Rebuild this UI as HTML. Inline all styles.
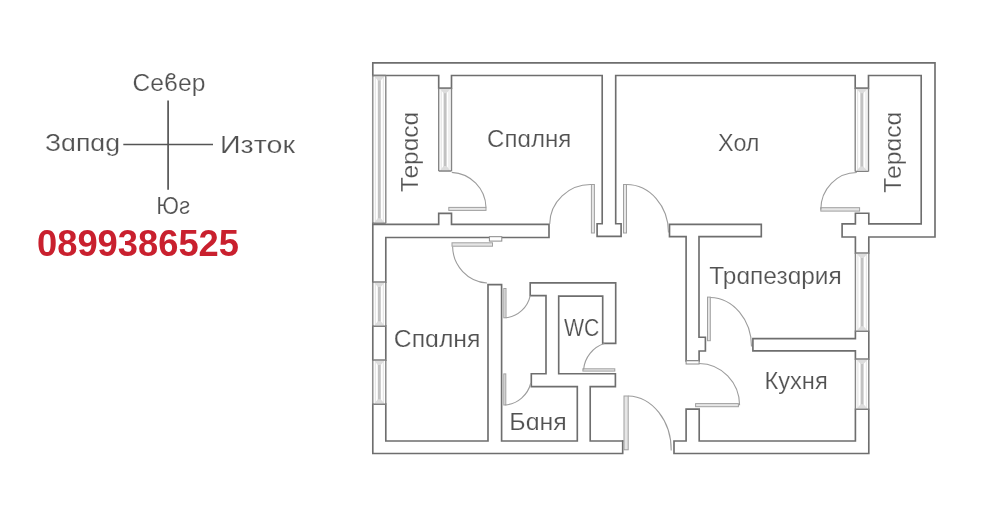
<!DOCTYPE html>
<html><head><meta charset="utf-8"><style>
html,body{margin:0;padding:0;background:#fff;}
body{width:1000px;height:505px;overflow:hidden;position:relative;}
svg{position:absolute;left:0;top:0;}
text{font-family:"Liberation Sans",sans-serif;}
svg{will-change:transform;}
</style></head><body>
<svg width="1000" height="505" viewBox="0 0 1000 505">
<rect width="1000" height="505" fill="#fff"/>
<g fill="none" stroke="#6e6e6e" stroke-width="1.65" stroke-linejoin="miter" stroke-linecap="square">
<path d="M372.8,62.8 H935 V237 H868.8 V253"/>
<path d="M372.8,62.8 V453.5 H622.7 V441"/>
<path d="M868.8,331.3 V359"/>
<path d="M868.8,409.3 V453.5 H674 V441 H686.1 V409.1 H699.2 V441 H855.4 V409.3"/>
<path d="M372.8,75.5 H438.7 V88.3 H451.5 V75.5 H602.2 V223.7 H597.1 V236.3 H621.1 V223.7 H615.7 V75.5 H855.2 V88.3 H868.5 V75.5 H921.2 V223.8 H868.8 V213.2 H855.4 V223.8 H842.1 V237 H855.4 V253"/>
<path d="M372.8,224.3 H438.7 V213.3 H451.5 V224.3 H549 V237.5 H385.8 V441 H488 V284.6 H501.6 V441 H577.3 V386.6 H531.3 V373.7 H546 V295.6 H530.2 V282.9 H615.7 V343.4 H602.7 V296.1 H558.7 V373.7 H615.4 V386.6 H590.2 V441 H622.7"/>
<path d="M669.5,224.3 H761.3 V236.6 H699.0 V337.2 H705.4 V351 H699.1 V360.8 H686.1 V236.6 H669.5 Z"/>
<path d="M855.4,331.3 V338.6 H752.9 V350.8 H855.4 V359"/>
</g>
<rect x="371.6" y="76.5" width="15.4" height="145.8" fill="#fff"/>
<line x1="375.3" y1="75.5" x2="375.3" y2="223.3" stroke="#dedede" stroke-width="0.9"/>
<line x1="383.3" y1="75.5" x2="383.3" y2="223.3" stroke="#dedede" stroke-width="0.9"/>
<rect x="377.8" y="79.5" width="3.0" height="139.8" fill="#c2c2c2"/>
<path d="M374.3,76.3 L384.3,76.3 L380.8,80.5 L377.8,80.5 Z M374.3,222.5 L384.3,222.5 L380.8,218.3 L377.8,218.3 Z" fill="#dcdcdc"/>
<path d="M372.8,75.5 V223.3 M385.8,75.5 V223.3" stroke="#858585" stroke-width="1.4" fill="none"/>
<path d="M372.8,75.5 H385.8 M372.8,223.3 H385.8" stroke="#808080" stroke-width="1.4" fill="none"/>
<rect x="437.5" y="89.3" width="15.200000000000012" height="80.7" fill="#fff"/>
<line x1="441.2" y1="88.3" x2="441.2" y2="171.0" stroke="#dedede" stroke-width="0.9"/>
<line x1="449.0" y1="88.3" x2="449.0" y2="171.0" stroke="#dedede" stroke-width="0.9"/>
<rect x="443.6" y="92.3" width="3.0" height="74.7" fill="#c2c2c2"/>
<path d="M440.2,89.1 L450.0,89.1 L446.6,93.3 L443.6,93.3 Z M440.2,170.2 L450.0,170.2 L446.6,166.0 L443.6,166.0 Z" fill="#dcdcdc"/>
<path d="M438.7,88.3 V171.0 M451.5,88.3 V171.0" stroke="#858585" stroke-width="1.4" fill="none"/>
<path d="M438.7,88.3 H451.5 M438.7,171.0 H451.5" stroke="#808080" stroke-width="1.4" fill="none"/>
<rect x="854.0" y="89.3" width="15.699999999999955" height="81.10000000000001" fill="#fff"/>
<line x1="857.7" y1="88.3" x2="857.7" y2="171.4" stroke="#dedede" stroke-width="0.9"/>
<line x1="866.0" y1="88.3" x2="866.0" y2="171.4" stroke="#dedede" stroke-width="0.9"/>
<rect x="860.35" y="92.3" width="3.0" height="75.10000000000001" fill="#c2c2c2"/>
<path d="M856.7,89.1 L867.0,89.1 L863.35,93.3 L860.35,93.3 Z M856.7,170.6 L867.0,170.6 L863.35,166.4 L860.35,166.4 Z" fill="#dcdcdc"/>
<path d="M855.2,88.3 V171.4 M868.5,88.3 V171.4" stroke="#858585" stroke-width="1.4" fill="none"/>
<path d="M855.2,88.3 H868.5 M855.2,171.4 H868.5" stroke="#808080" stroke-width="1.4" fill="none"/>
<rect x="854.1999999999999" y="254.0" width="15.799999999999978" height="76.30000000000001" fill="#fff"/>
<line x1="857.9" y1="253.0" x2="857.9" y2="331.3" stroke="#dedede" stroke-width="0.9"/>
<line x1="866.3" y1="253.0" x2="866.3" y2="331.3" stroke="#dedede" stroke-width="0.9"/>
<rect x="860.5999999999999" y="257.0" width="3.0" height="70.30000000000001" fill="#c2c2c2"/>
<path d="M856.9,253.8 L867.3,253.8 L863.5999999999999,258.0 L860.5999999999999,258.0 Z M856.9,330.5 L867.3,330.5 L863.5999999999999,326.3 L860.5999999999999,326.3 Z" fill="#dcdcdc"/>
<path d="M855.4,253.0 V331.3 M868.8,253.0 V331.3" stroke="#858585" stroke-width="1.4" fill="none"/>
<path d="M855.4,253.0 H868.8 M855.4,331.3 H868.8" stroke="#808080" stroke-width="1.4" fill="none"/>
<rect x="854.1999999999999" y="360.0" width="15.799999999999978" height="48.30000000000001" fill="#fff"/>
<line x1="857.9" y1="359.0" x2="857.9" y2="409.3" stroke="#dedede" stroke-width="0.9"/>
<line x1="866.3" y1="359.0" x2="866.3" y2="409.3" stroke="#dedede" stroke-width="0.9"/>
<rect x="860.5999999999999" y="363.0" width="3.0" height="42.30000000000001" fill="#c2c2c2"/>
<path d="M856.9,359.8 L867.3,359.8 L863.5999999999999,364.0 L860.5999999999999,364.0 Z M856.9,408.5 L867.3,408.5 L863.5999999999999,404.3 L860.5999999999999,404.3 Z" fill="#dcdcdc"/>
<path d="M855.4,359.0 V409.3 M868.8,359.0 V409.3" stroke="#858585" stroke-width="1.4" fill="none"/>
<path d="M855.4,359.0 H868.8 M855.4,409.3 H868.8" stroke="#808080" stroke-width="1.4" fill="none"/>
<rect x="371.6" y="283.0" width="15.4" height="42.19999999999999" fill="#fff"/>
<line x1="375.3" y1="282.0" x2="375.3" y2="326.2" stroke="#dedede" stroke-width="0.9"/>
<line x1="383.3" y1="282.0" x2="383.3" y2="326.2" stroke="#dedede" stroke-width="0.9"/>
<rect x="377.8" y="286.0" width="3.0" height="36.19999999999999" fill="#c2c2c2"/>
<path d="M374.3,282.8 L384.3,282.8 L380.8,287.0 L377.8,287.0 Z M374.3,325.4 L384.3,325.4 L380.8,321.2 L377.8,321.2 Z" fill="#dcdcdc"/>
<path d="M372.8,282.0 V326.2 M385.8,282.0 V326.2" stroke="#858585" stroke-width="1.4" fill="none"/>
<path d="M372.8,282.0 H385.8 M372.8,326.2 H385.8" stroke="#808080" stroke-width="1.4" fill="none"/>
<rect x="371.6" y="361.0" width="15.4" height="42.30000000000001" fill="#fff"/>
<line x1="375.3" y1="360.0" x2="375.3" y2="404.3" stroke="#dedede" stroke-width="0.9"/>
<line x1="383.3" y1="360.0" x2="383.3" y2="404.3" stroke="#dedede" stroke-width="0.9"/>
<rect x="377.8" y="364.0" width="3.0" height="36.30000000000001" fill="#c2c2c2"/>
<path d="M374.3,360.8 L384.3,360.8 L380.8,365.0 L377.8,365.0 Z M374.3,403.5 L384.3,403.5 L380.8,399.3 L377.8,399.3 Z" fill="#dcdcdc"/>
<path d="M372.8,360.0 V404.3 M385.8,360.0 V404.3" stroke="#858585" stroke-width="1.4" fill="none"/>
<path d="M372.8,360.0 H385.8 M372.8,404.3 H385.8" stroke="#808080" stroke-width="1.4" fill="none"/>
<rect x="448.8" y="207.4" width="37.2" height="3.0" fill="#e6e6e6" stroke="#a0a0a0" stroke-width="1"/>
<path d="M451.8,172.4 A36,36 0 0 1 486,207.4" fill="none" stroke="#9c9c9c" stroke-width="1.1"/>
<rect x="452.0" y="242.8" width="40.5" height="3.4" fill="#e6e6e6" stroke="#a0a0a0" stroke-width="1"/>
<path d="M452.6,246.6 A37,37 0 0 0 487,283" fill="none" stroke="#9c9c9c" stroke-width="1.1"/>
<rect x="591.4" y="184.5" width="3.0" height="48.5" fill="#e6e6e6" stroke="#a0a0a0" stroke-width="1"/>
<path d="M591.4,184.5 A41,40 0 0 0 549.7,224.0" fill="none" stroke="#9c9c9c" stroke-width="1.1"/>
<rect x="623.5" y="184.5" width="3.0" height="48.5" fill="#e6e6e6" stroke="#a0a0a0" stroke-width="1"/>
<path d="M626.5,184.5 A42,48 0 0 1 668.5,232.5" fill="none" stroke="#9c9c9c" stroke-width="1.1"/>
<rect x="820.8" y="207.7" width="38.8" height="3.4" fill="#e6e6e6" stroke="#a0a0a0" stroke-width="1"/>
<path d="M856.8,172.5 A36,37 0 0 0 820.8,209.5" fill="none" stroke="#9c9c9c" stroke-width="1.1"/>
<rect x="503.8" y="288.5" width="2.2" height="29.3" fill="#e6e6e6" stroke="#a0a0a0" stroke-width="1"/>
<path d="M505.8,317.8 A28,28 0 0 0 530.2,295.6" fill="none" stroke="#9c9c9c" stroke-width="1.1"/>
<rect x="503.8" y="373.9" width="2.0" height="31.1" fill="#e6e6e6" stroke="#a0a0a0" stroke-width="1"/>
<path d="M505.4,405 A29,29 0 0 0 530.8,383" fill="none" stroke="#9c9c9c" stroke-width="1.1"/>
<rect x="582.9" y="368.8" width="31.9" height="2.3" fill="#e6e6e6" stroke="#a0a0a0" stroke-width="1"/>
<path d="M583.6,369.5 A30,30 0 0 1 604.4,343.6" fill="none" stroke="#9c9c9c" stroke-width="1.1"/>
<rect x="624.0" y="396.0" width="4.2" height="53.8" fill="#e6e6e6" stroke="#a0a0a0" stroke-width="1"/>
<path d="M628.2,396 A44,54 0 0 1 671.2,450.6" fill="none" stroke="#9c9c9c" stroke-width="1.1"/>
<rect x="707.5" y="297.1" width="2.8" height="43.6" fill="#e6e6e6" stroke="#a0a0a0" stroke-width="1"/>
<path d="M710.3,297.5 A42,49 0 0 1 751.5,346.5" fill="none" stroke="#9c9c9c" stroke-width="1.1"/>
<rect x="695.6" y="403.6" width="42.8" height="3.1" fill="#e6e6e6" stroke="#a0a0a0" stroke-width="1"/>
<path d="M699.1,363.5 A41,42 0 0 1 739.6,405.3" fill="none" stroke="#9c9c9c" stroke-width="1.1"/>
<rect x="489.4" y="236.7" width="12.4" height="4.4" fill="#fff" stroke="#8c8c8c" stroke-width="1"/>
<rect x="686.1" y="360.8" width="13.0" height="3.2" fill="#fff" stroke="#8c8c8c" stroke-width="1"/>
<g fill="#525252" font-size="24" stroke="#fff" stroke-width="0.2">
<text x="487.1" y="146.8" textLength="84.2" lengthAdjust="spacingAndGlyphs" font-size="24">Спɑлня</text>
<text x="718.1" y="151.2" textLength="41.4" lengthAdjust="spacingAndGlyphs" font-size="24">Хол</text>
<text x="709.3" y="283.5" textLength="132.5" lengthAdjust="spacingAndGlyphs" font-size="24">Трɑпезɑрия</text>
<text x="764.5" y="388.8" textLength="63.2" lengthAdjust="spacingAndGlyphs" font-size="24">Кухня</text>
<text x="393.8" y="347.0" textLength="86.7" lengthAdjust="spacingAndGlyphs" font-size="24">Спɑлня</text>
<text x="509.3" y="430.0" textLength="57.5" lengthAdjust="spacingAndGlyphs" font-size="24">Бɑня</text>
<text x="564.0" y="336.3" textLength="35.4" lengthAdjust="spacingAndGlyphs" font-size="24">WC</text>
<text transform="translate(417.7,192) rotate(-90)" x="0" y="0" textLength="80" lengthAdjust="spacingAndGlyphs">Терɑсɑ</text>
<text transform="translate(900.7,192.7) rotate(-90)" x="0" y="0" textLength="81" lengthAdjust="spacingAndGlyphs">Терɑсɑ</text>
</g>
<g stroke="#555" stroke-width="1.7"><line x1="168.1" y1="100.5" x2="168.1" y2="189.7"/><line x1="123.3" y1="144.5" x2="213" y2="144.5"/></g>
<g fill="#525252" font-size="24" stroke="#fff" stroke-width="0.2">
<text x="132.5" y="91" textLength="73" lengthAdjust="spacingAndGlyphs">Сеϐер</text>
<text x="45" y="151" textLength="75" lengthAdjust="spacingAndGlyphs">Зɑпɑɡ</text>
<text x="220" y="153" textLength="75" lengthAdjust="spacingAndGlyphs">Изток</text>
<text x="156.3" y="214.2" textLength="34" lengthAdjust="spacingAndGlyphs">Юƨ</text>
</g>
<text x="37" y="255.6" font-size="36" font-weight="bold" fill="#c9202e" textLength="202" lengthAdjust="spacingAndGlyphs">0899386525</text>
</svg>
</body></html>
